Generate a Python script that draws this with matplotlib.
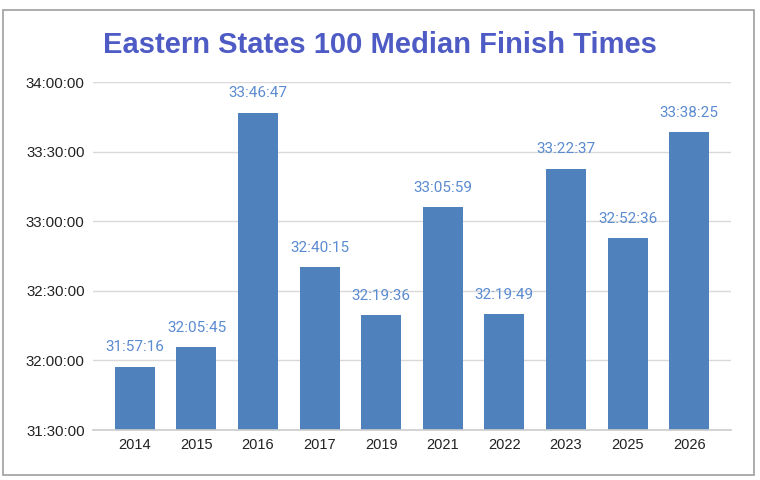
import matplotlib
matplotlib.use("Agg")
import matplotlib.pyplot as plt
from matplotlib.patches import Rectangle

years = ["2014", "2015", "2016", "2017", "2019", "2021", "2022", "2023", "2025", "2026"]
times = ["31:57:16", "32:05:45", "33:46:47", "32:40:15", "32:19:36",
         "33:05:59", "32:19:49", "33:22:37", "32:52:36", "33:38:25"]
y_ticks = ["31:30:00", "32:00:00", "32:30:00", "33:00:00", "33:30:00", "34:00:00"]

def to_sec(s):
    h, m, sec = (int(p) for p in s.split(":"))
    return h * 3600 + m * 60 + sec

values = [to_sec(t) for t in times]
tick_vals = [to_sec(t) for t in y_ticks]

fig = plt.figure(figsize=(7.6, 4.8), dpi=100)
fig.patch.set_facecolor("white")
fig.add_artist(Rectangle((3 / 760, 1 - 475 / 480), 751 / 760, 465 / 480,
                         transform=fig.transFigure, fill=False,
                         edgecolor="#9e9e9e", linewidth=1.2))

ax = fig.add_axes([93 / 760, 1 - 430 / 480, 638 / 760, 348 / 480])
x = list(range(len(years)))
ax.bar(x, values, width=0.65, color="#4f81bd", zorder=3)
ax.set_xlim(-0.68, len(years) - 1 + 0.68)
ax.set_ylim(tick_vals[0], tick_vals[-1])
ax.set_yticks(tick_vals)
ax.set_yticklabels(y_ticks, fontsize=10.8, family="Liberation Sans", color="#222222")
ax.set_xticks(x)
ax.set_xticklabels(years, fontsize=10.5, family="Liberation Sans", color="#222222")
ax.tick_params(axis="both", length=0)
ax.tick_params(axis="y", pad=6)
ax.tick_params(axis="x", pad=6)
ax.grid(axis="y", color="#d9d9d9", linewidth=1, zorder=0)
for sp in ["top", "right", "left"]:
    ax.spines[sp].set_visible(False)
ax.spines["bottom"].set_color("#cccccc")
ax.spines["bottom"].set_linewidth(1.2)
ax.spines["bottom"].set_zorder(4)

for xi, v, t in zip(x, values, times):
    ax.annotate(t, (xi, v), xytext=(0, 11), textcoords="offset points",
                ha="center", va="baseline", fontsize=11, family="Roboto",
                color="#5b8bd0", zorder=5)

fig.text(380 / 760, 1 - 45 / 480, "Eastern States 100 Median Finish Times",
         ha="center", va="center", fontsize=21, fontweight="heavy",
         family="Liberation Sans", color="#4e5bc4")

fig.savefig("out.png", dpi=100)
